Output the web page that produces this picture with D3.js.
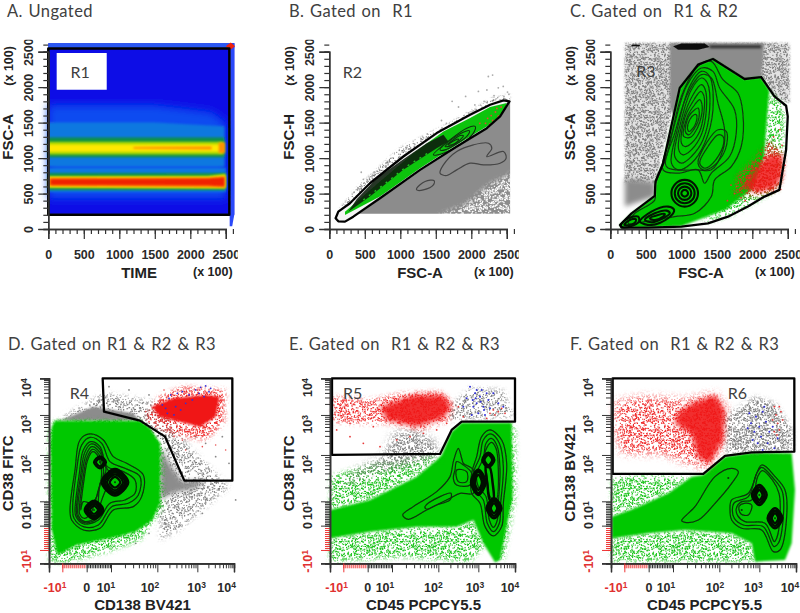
<!DOCTYPE html>
<html>
<head>
<meta charset="utf-8">
<script src="https://d3js.org/d3.v7.min.js"></script>
<style>
  html, body { margin: 0; background: #fff; }
  svg { display: block; }
  .title { font: 16.5px Lato, sans-serif; fill: #404040; word-spacing: 1px; letter-spacing: 0.4px; }
  .gate-name { font: 16px Lato, sans-serif; fill: #404040; }
  .tick-label { font: bold 12.5px "Liberation Sans", sans-serif; fill: #2a2a2a; }
  .axis-title { font: bold 15px "Liberation Sans", sans-serif; fill: #222; }
  .axis-unit { font: bold 12.5px "Liberation Sans", sans-serif; fill: #222; }
</style>
</head>
<body>
<svg id="chart" width="800" height="613"></svg>
<script>
// ---- Linear axes, top row (x 100)
const linearMajor = [0, 500, 1000, 1500, 2000, 2500];
const linearMinor = d3.range(0, 2601, 100);

// ---- Biexponential axes, bottom row, in display channels
const bixTicks = [40, 113, 186, 325, 445, 555];
const bixBases = ['-10', '0', '10', '10', '10', '10'];
const bixExps = ['1', '', '1', '2', '3', '4'];
const bixDecades = [186, 325, 445, 555];
const dLabelPos = [18, 113, 171, 303, 443, 533];
const eLabelPos = [20, 113, 165, 310, 435, 540];
const fLabelPos = [15, 114, 165, 312, 427, 537];

// ---- Panel A, FSC-A over TIME density
const aPlot = [[0, 200], [2620, 200], [2620, 2620], [0, 2620]];
const aStripTop = [[0, 2550], [2620, 2550], [2620, 2620], [0, 2620]];
const aStripRight = [[2555, 40], [2590, 40], [2620, 200], [2620, 2620], [2555, 2620]];
const aCorner = [[2500, 2576], [2570, 2630], [2630, 2576], [2570, 2530]];
const aBandColors = ['#0b4cf0', '#0f78e0', '#0f78e0', '#109048', '#109048', '#a8d800', '#a8d800', '#ffe800', '#ffe800', '#ff9000', '#ff9000', '#ff9000', '#f02000'];
const aBands = [
  [[0, 430], [2500, 430], [2500, 1500], [2300, 1650], [1500, 1750], [0, 1750]],
  [[0, 880], [2480, 880], [2480, 1450], [1500, 1500], [0, 1500]],
  [[0, 520], [2500, 520], [2500, 860], [0, 860]],
  [[0, 1010], [2480, 1010], [2480, 1290], [0, 1290]],
  [[0, 550], [2490, 550], [2490, 790], [0, 790]],
  [[0, 1050], [2470, 1050], [2470, 1230], [0, 1230]],
  [[0, 580], [2500, 570], [2500, 780], [2250, 750], [0, 745]],
  [[0, 1090], [2450, 1090], [2450, 1190], [0, 1190]],
  [[0, 595], [2490, 585], [2490, 755], [2250, 730], [0, 730]],
  [[0, 605], [2490, 590], [2490, 745], [2250, 722], [0, 722]],
  [[1200, 1130], [2300, 1120], [2300, 1165], [1200, 1155]],
  [[2400, 1070], [2490, 1070], [2490, 1220], [2400, 1220]],
  [[30, 622], [2250, 612], [2480, 600], [2480, 730], [2250, 712], [30, 705]]
];
const aGate = [[0, 200], [2550, 200], [2550, 2545], [0, 2545]];
const aLabelBox = [[118, 1964], [823, 1964], [823, 2482], [118, 2482]];

// ---- Panel B, FSC-H over FSC-A
const bFringe = [[127, 268], [400, 600], [1000, 1150], [1700, 1500], [2300, 1850], [2550, 1900], [2538, 1799], [1983, 1611], [1043, 1022], [573, 645], [291, 363]];
const bGrey = [[291, 215], [2547, 215], [2547, 1799], [2218, 1422], [1795, 1163], [1278, 834], [714, 433]];
const bGreyFade = [[1500, 180], [2600, 180], [2600, 800], [2250, 620], [1900, 330]];
const bGate = [[89, 151], [127, 108], [221, 104], [338, 174], [714, 433], [1278, 834], [1795, 1163], [2218, 1422], [2406, 1587], [2538, 1799], [2453, 1813], [2265, 1752], [1983, 1611], [1513, 1352], [1043, 1022], [573, 645], [291, 363], [127, 245]];
const bGreen = [[221, 198], [714, 457], [1278, 857], [1795, 1187], [2218, 1446], [2453, 1634], [2500, 1776], [2265, 1719], [1983, 1564], [1607, 1375], [1184, 1069], [714, 669], [385, 386], [221, 245]];
const bCore = [[268, 245], [573, 457], [1043, 834], [1513, 1140], [1678, 1234], [1607, 1328], [1372, 1210], [1043, 984], [667, 716], [385, 420]];
const bCoreLine = [[479, 410], [760, 620], [1100, 890], [1419, 1090]];
const bContours = [
  [[1466, 1046], [1701, 1258], [1936, 1422], [2054, 1446], [2030, 1352], [1842, 1187], [1607, 1069]],
  [[1560, 1116], [1748, 1281], [1913, 1375], [1974, 1385], [1936, 1305], [1772, 1187], [1630, 1116]],
  [[1630, 1163], [1748, 1258], [1842, 1319], [1889, 1314], [1842, 1258], [1725, 1177]],
  [[1678, 1187], [1762, 1248], [1819, 1267], [1795, 1225], [1725, 1187]]
];
const bGreyContours = [
  [[1560, 787], [1607, 904], [1795, 1093], [2030, 1187], [2242, 1210], [2289, 1140], [2218, 1022], [2453, 1093], [2491, 999], [2406, 928], [2171, 904], [1983, 928], [1795, 834], [1654, 754]],
  [[1231, 575], [1349, 669], [1476, 683], [1466, 622], [1325, 551], [1231, 551]]
];
const bDots = [[1730, 1800], [1820, 1720], [1920, 1870], [2100, 1940], [2240, 2150], [2300, 2170], [2220, 1960], [2380, 1990], [2450, 2010], [2510, 1930], [2320, 1880], [2180, 1800], [1290, 1270], [1380, 1340], [1200, 1200], [1120, 1130], [900, 900], [760, 780], [450, 800], [480, 700], [350, 520], [1580, 1530], [1650, 1490], [2050, 1750], [2460, 1870], [2530, 1900]];
const bRedDots = [[2230, 1560], [2280, 1600], [2340, 1650], [2380, 1590], [2200, 1490], [2300, 1530], [2120, 1490], [2420, 1720], [2360, 1700], [2260, 1480]];

// ---- Panel C, SSC-A over FSC-A
const cSpeckle = [[206, 2623], [2523, 2623], [2523, 1776], [2312, 1870], [2125, 2152], [955, 2011], [627, 645], [206, 640]];
const cGrey = [[838, 2623], [2172, 2623], [2125, 2129], [978, 1988], [900, 1600], [838, 1700]];
const cGreyLow = [[206, 316], [627, 457], [636, 660], [400, 690], [206, 700]];
const cPaleGreen = [[2240, 1940], [2450, 1730], [2430, 970], [2360, 550], [2170, 457], [1760, 220], [1280, 70], [1500, 300], [2150, 1000]];
const cGate = [[136, 57], [300, 221], [627, 466], [636, 669], [744, 928], [978, 1988], [1236, 2317], [1446, 2397], [1891, 2115], [2125, 2143], [2312, 1870], [2476, 1738], [2499, 1587], [2476, 1116], [2382, 551], [2172, 457], [1938, 316], [1657, 174], [1376, 80], [1002, 33], [534, 19], [159, 19]];
const cGreen = [[136, 57], [300, 221], [627, 466], [636, 669], [744, 928], [978, 1988], [1236, 2317], [1446, 2397], [1891, 2115], [2125, 2143], [2240, 1960], [2190, 1350], [2170, 1020], [2000, 560], [1620, 270], [1000, 40], [534, 19], [159, 19]];
const cRedWide = [[1740, 480], [1800, 760], [2050, 1000], [2240, 1240], [2440, 1060], [2420, 700], [2340, 540], [2050, 470]];
const cRed = [[1860, 590], [2020, 820], [2230, 1050], [2430, 1040], [2410, 720], [2320, 580], [2080, 510]];
const cTopBlack = [[885, 2576], [1002, 2614], [1329, 2614], [1399, 2567], [1236, 2529], [955, 2529]];
const cTopStreak = [[1399, 2590], [2125, 2590], [2125, 2550], [1399, 2550]];
const cTopDash = [[300, 2575], [417, 2575], [417, 2600], [300, 2600]];
const cContours = [
  [[627, 598], [791, 1022], [1002, 1870], [1236, 2294], [1423, 2364], [1587, 2105], [1797, 1917], [1867, 1634], [1844, 1163], [1704, 881], [1470, 692], [1423, 457], [1189, 221], [908, 174], [487, 104], [253, 80], [346, 221], [627, 410]],
  [[744, 834], [885, 1399], [1072, 2011], [1282, 2270], [1446, 2223], [1540, 1988], [1750, 1681], [1774, 1352], [1680, 1022], [1423, 787], [1329, 645], [1236, 834], [955, 787]],
  [[791, 881], [908, 1352], [1095, 1917], [1282, 2176], [1423, 2129], [1516, 1776], [1610, 1399], [1587, 1116], [1423, 834], [1236, 834]],
  [[861, 928], [931, 1352], [1119, 2011], [1282, 2223], [1399, 2152], [1446, 1681], [1329, 1210], [1142, 928], [955, 834]],
  [[908, 1022], [978, 1446], [1142, 1964], [1282, 2129], [1367, 2058], [1399, 1681], [1306, 1258], [1142, 1022], [1002, 928]],
  [[964, 1116], [1025, 1540], [1165, 1893], [1282, 2035], [1338, 1964], [1353, 1681], [1282, 1328], [1142, 1116], [1025, 1046]],
  [[1002, 1210], [1048, 1564], [1179, 1823], [1273, 1941], [1320, 1870], [1320, 1658], [1259, 1375], [1142, 1210], [1048, 1163]],
  [[1034, 1305], [1086, 1587], [1189, 1752], [1259, 1823], [1292, 1752], [1282, 1587], [1226, 1422], [1133, 1295]],
  [[1058, 1375], [1104, 1587], [1189, 1681], [1236, 1705], [1254, 1634], [1236, 1517], [1179, 1408], [1104, 1328]],
  [[1086, 1422], [1119, 1540], [1179, 1611], [1212, 1611], [1212, 1517], [1165, 1422], [1109, 1375]],
  [[1259, 928], [1376, 1163], [1516, 1328], [1587, 1305], [1587, 1163], [1446, 928], [1329, 857]],
  [[1236, 928], [1353, 1210], [1516, 1399], [1633, 1375], [1619, 1116], [1446, 881], [1306, 834]]
];
const cRings = [
  [[1048, 692], [1180, 636], [1235, 504], [1180, 372], [1048, 316], [916, 372], [861, 504], [916, 636]],
  [[1048, 645], [1148, 604], [1188, 504], [1148, 404], [1048, 363], [948, 404], [908, 504], [948, 604]],
  [[1048, 598], [1114, 570], [1142, 504], [1114, 438], [1048, 410], [982, 438], [954, 504], [982, 570]],
  [[1048, 551], [1081, 537], [1095, 504], [1081, 471], [1048, 457], [1015, 471], [1001, 504], [1015, 537]],
  [[417, 104], [580, 245], [814, 316], [899, 268], [814, 151], [580, 57]],
  [[487, 127], [627, 221], [791, 259], [838, 221], [744, 151], [580, 94]],
  [[557, 151], [674, 198], [767, 212], [744, 174], [627, 127]],
  [[150, 57], [253, 151], [393, 174], [402, 104], [276, 33], [169, 24]],
  [[197, 61], [276, 127], [360, 137], [346, 89], [243, 52]]
];
const cRedDots = [[1780, 600], [1750, 500], [1700, 620], [1840, 440], [1900, 400], [2240, 1200], [2300, 1300], [2350, 1120], [2420, 1180], [2390, 1400], [2280, 1140], [2460, 900], [2400, 560], [2300, 530], [1650, 400], [2120, 930], [2050, 860], [1960, 720]];

// ---- Panel D, CD38 FITC over CD138 BV421
const dCloud = [[33, 435], [113, 480], [163, 510], [260, 495], [333, 480], [420, 350], [500, 270], [540, 230], [470, 170], [390, 100], [333, 70], [333, 360]];
const dGrey = [[43, 432], [133, 470], [253, 450], [273, 428], [18, 428]];
const dGrey2 = [[333, 350], [368, 290], [400, 245], [470, 250], [440, 225], [370, 210], [333, 190]];
const dEdgeGreen = [[1, 5], [53, 2], [190, 40], [273, 70], [343, 170], [340, 350], [273, 428], [18, 428], [0, 400]];
const dGreen = [[18, 428], [273, 428], [303, 405], [333, 360], [333, 180], [310, 130], [260, 95], [203, 80], [83, 55], [25, 25], [8, 100], [5, 350], [8, 410]];
const dGate = [[161, 555], [550, 555], [550, 248], [406, 248], [348, 380], [273, 428], [165, 455]];
const dRedWide = [[290, 440], [330, 500], [400, 530], [530, 520], [525, 420], [470, 370], [400, 380], [340, 400]];
const dRed = [[308, 470], [373, 495], [473, 505], [512, 500], [500, 440], [453, 410], [393, 425], [333, 440]];
const dContours = [
  [[63, 160], [78, 280], [93, 370], [123, 388], [163, 370], [193, 320], [233, 300], [283, 265], [278, 200], [253, 170], [193, 160], [153, 105], [103, 100], [68, 130]],
  [[71, 160], [83, 280], [98, 355], [123, 378], [158, 360], [183, 305], [228, 285], [273, 260], [268, 205], [238, 180], [188, 170], [148, 115], [103, 110], [75, 135]],
  [[78, 160], [91, 270], [103, 340], [125, 365], [153, 350], [175, 290], [223, 275], [258, 250], [258, 210], [228, 190], [183, 180], [148, 130], [105, 118], [81, 140]],
  [[82, 160], [95, 265], [107, 332], [126, 358], [152, 343], [173, 285], [190, 262], [170, 220], [155, 180], [145, 135], [106, 122], [85, 141]],
  [[86, 160], [98, 260], [111, 325], [128, 350], [151, 335], [171, 280], [153, 240], [148, 190], [143, 140], [108, 125], [88, 143]],
  [[91, 160], [102, 255], [114, 317], [130, 342], [149, 328], [164, 275], [148, 220], [140, 190], [125, 150], [106, 135], [92, 148]],
  [[95, 160], [105, 250], [116, 310], [131, 335], [148, 320], [158, 270], [143, 200], [128, 180], [103, 185]]
];
const dRings = [
  [[171, 303], [153, 321], [135, 303], [153, 285]],
  [[165, 303], [153, 315], [141, 303], [153, 291]],
  [[238, 243], [198, 283], [158, 243], [198, 203]],
  [[233, 243], [198, 278], [163, 243], [198, 208]],
  [[228, 243], [198, 273], [168, 243], [198, 213]],
  [[222, 243], [198, 267], [174, 243], [198, 219]],
  [[214, 243], [198, 259], [182, 243], [198, 227]],
  [[163, 160], [135, 188], [107, 160], [135, 132]],
  [[158, 160], [135, 183], [112, 160], [135, 137]],
  [[153, 160], [135, 178], [117, 160], [135, 142]],
  [[147, 160], [135, 172], [123, 160], [135, 148]]
];
const dCenters = [[198, 243], [135, 160], [153, 303]];
const dGreyDots = [[180, 530], [210, 490], [240, 520], [280, 480], [300, 505], [330, 470], [360, 380], [390, 350], [420, 330], [450, 300], [500, 320], [520, 380], [540, 300], [470, 360], [440, 380], [410, 290], [380, 190], [420, 170], [460, 150], [350, 120], [390, 110], [430, 200], [470, 190], [510, 220], [560, 190], [370, 150], [335, 140], [300, 90], [260, 60]];
const dRedDots = [[300, 425], [320, 410], [350, 400], [375, 380], [400, 370], [430, 390], [460, 350], [500, 355], [530, 340], [410, 340], [365, 340], [480, 395], [290, 455], [345, 520], [480, 520]];
const dBlueDots = [[385, 510], [400, 515], [420, 505], [440, 520], [455, 528], [470, 532], [480, 515], [360, 495], [340, 475], [355, 450], [375, 445], [395, 460], [410, 480], [430, 490], [380, 470], [350, 465], [450, 510], [365, 505], [485, 525], [465, 500]];

// ---- Panel E, CD38 FITC over CD45 PCPCY5.5
const eGate = [[6, 555], [555, 555], [555, 425], [395, 425], [365, 400], [330, 328], [6, 325]];
const eEdgeUpper = [[3, 262], [140, 300], [310, 325], [320, 310], [260, 260], [120, 190], [0, 160]];
const eEdgeLower = [[0, 75], [0, 5], [220, 20], [420, 5], [470, 60], [430, 130], [380, 110], [260, 110], [120, 95]];
const eEdgeRight = [[540, 422], [556, 400], [556, 200], [520, 10], [500, 10]];
const eGreen = [[0, 160], [120, 190], [260, 260], [320, 310], [335, 325], [365, 395], [395, 422], [545, 422], [548, 200], [510, 10], [495, 3], [460, 60], [430, 130], [380, 110], [260, 110], [120, 95], [0, 75]];
const eGreyCloud = [[30, 230], [120, 270], [220, 290], [320, 320], [320, 360], [260, 400], [190, 390], [160, 320], [80, 280]];
const eRedWide = [[8, 500], [120, 490], [220, 510], [330, 515], [375, 475], [360, 430], [270, 400], [180, 420], [70, 420], [8, 425]];
const eRedCore = [[150, 470], [250, 505], [340, 505], [365, 470], [340, 435], [260, 410], [170, 430]];
const eGreyTop = [[360, 470], [420, 525], [520, 520], [550, 440], [400, 430], [360, 430]];
const eContours = [
  [[218, 145], [250, 170], [320, 215], [360, 260], [370, 305], [385, 345], [395, 315], [400, 300], [430, 280], [430, 210], [390, 210], [360, 195], [290, 160], [235, 132]],
  [[285, 170], [330, 200], [363, 210], [360, 190], [320, 175], [290, 162]],
  [[375, 280], [380, 305], [400, 295], [425, 270], [420, 235], [380, 235], [370, 255]],
  [[380, 280], [410, 275], [410, 245], [385, 245]],
  [[440, 320], [455, 380], [480, 400], [515, 370], [530, 300], [520, 180], [515, 110], [490, 82], [465, 110], [450, 180], [425, 210], [425, 270]],
  [[450, 320], [460, 370], [482, 388], [508, 360], [520, 290], [512, 180], [508, 120], [490, 95], [472, 120], [460, 190], [435, 220], [430, 270]],
  [[460, 315], [468, 360], [484, 375], [502, 350], [510, 280], [505, 180], [502, 130], [490, 108], [478, 130], [468, 200], [445, 230], [440, 270]],
  [[462, 310], [472, 350], [485, 363], [498, 345], [505, 280], [498, 190], [480, 200], [470, 270]]
];
const eRings = [
  [[467, 243], [445, 281], [423, 243], [445, 205]],
  [[462, 243], [445, 275], [428, 243], [445, 211]],
  [[456, 243], [445, 266], [434, 243], [445, 220]],
  [[514, 165], [492, 195], [470, 165], [492, 135]],
  [[508, 165], [492, 188], [476, 165], [492, 142]],
  [[502, 165], [492, 180], [482, 165], [492, 150]],
  [[493, 310], [475, 332], [457, 310], [475, 288]],
  [[487, 310], [475, 326], [463, 310], [475, 294]],
  [[478, 290], [488, 240], [490, 190], [480, 190], [472, 240], [468, 290]]
];
const eBlueDots = [[420, 530], [435, 510], [450, 500], [440, 480], [460, 470], [430, 470], [475, 490], [490, 510], [410, 495], [445, 450], [465, 445], [480, 465], [505, 480], [520, 470], [425, 445], [400, 470], [455, 520], [440, 520], [452, 485], [470, 510], [437, 495], [462, 460], [428, 490]];
const eRedDots = [[490, 460], [505, 455], [515, 465], [495, 445], [480, 450], [525, 450], [470, 435], [400, 440], [385, 470], [20, 400], [60, 380], [100, 360], [150, 350], [200, 370], [240, 380], [60, 420], [130, 410], [280, 390], [320, 400], [350, 420]];

// ---- Panel F, CD138 BV421 over CD45 PCPCY5.5
const fGate = [[5, 555], [550, 555], [550, 335], [422, 333], [342, 322], [277, 268], [5, 268]];
const fEdgeUpper = [[2, 262], [242, 262], [172, 210], [72, 165], [2, 140]];
const fEdgeLower = [[2, 75], [112, 90], [222, 100], [362, 90], [422, 60], [432, 5], [2, 5]];
const fGreen = [[2, 140], [72, 165], [172, 210], [242, 260], [277, 265], [342, 320], [422, 332], [542, 330], [552, 220], [542, 60], [522, 10], [432, 5], [422, 60], [362, 90], [222, 100], [112, 90], [2, 75]];
const fRedWide = [[12, 485], [102, 500], [222, 490], [312, 510], [350, 460], [345, 370], [292, 285], [232, 300], [152, 330], [32, 330], [12, 400]];
const fRedCore = [[200, 450], [242, 480], [312, 505], [342, 460], [337, 370], [297, 300], [262, 315], [240, 390], [190, 420]];
const fGreyCloud = [[347, 330], [342, 440], [432, 500], [492, 480], [545, 400], [545, 338]];
const fContours = [
  [[212, 128], [252, 170], [312, 260], [362, 285], [382, 275], [362, 240], [312, 180], [262, 130], [222, 123]],
  [[357, 160], [362, 190], [412, 210], [452, 295], [492, 260], [522, 220], [527, 140], [507, 40], [487, 35], [452, 100], [392, 105], [362, 130]],
  [[364, 160], [370, 182], [412, 200], [437, 270], [452, 288], [487, 255], [514, 215], [517, 140], [502, 60], [489, 50], [457, 110], [397, 115], [370, 135]],
  [[376, 165], [392, 185], [422, 190], [440, 260], [454, 278], [484, 250], [504, 210], [507, 140], [497, 75], [490, 65], [462, 120], [402, 125], [380, 143]],
  [[384, 170], [400, 180], [422, 175], [412, 145], [390, 148]]
];
const fRings = [
  [[467, 205], [445, 235], [423, 205], [445, 175]],
  [[461, 205], [445, 228], [429, 205], [445, 182]],
  [[455, 205], [445, 220], [435, 205], [445, 190]],
  [[514, 135], [492, 165], [470, 135], [492, 105]],
  [[508, 135], [492, 158], [476, 135], [492, 112]],
  [[502, 135], [492, 150], [482, 135], [492, 120]]
];
const fCenters = [[352, 256], [445, 205], [492, 135], [392, 160]];
const fRedDots = [[490, 470], [495, 445], [500, 420], [505, 400], [485, 430], [510, 455], [490, 395], [505, 470], [515, 430], [498, 385]];
const fBlueDots = [[420, 420], [435, 440], [445, 410], [455, 455], [465, 425], [475, 395], [430, 395], [450, 380], [440, 360], [470, 360], [485, 410], [415, 450], [460, 470], [500, 375], [425, 370], [455, 340], [490, 345], [410, 405]];

const svg = d3.select('#chart');
const defs = svg.append('defs');
[['soft', 0.35], ['blur1', 1.2], ['blur2', 2.4], ['blur4', 4]].forEach(([id, dev]) => {
  defs.append('filter').attr('id', id)
    .attr('filterUnits', 'userSpaceOnUse').attr('x', 0).attr('y', 0).attr('width', 800).attr('height', 613)
    .append('feGaussianBlur').attr('stdDeviation', dev);
});

// ---- Speckle textures for the clouds of single events (style only, no values)
function addSpeck(id, color, count, size) {
  const pattern = defs.append('pattern').attr('id', id)
    .attr('patternUnits', 'userSpaceOnUse').attr('width', 61).attr('height', 53);
  pattern.selectAll('rect').data(d3.range(count)).join('rect')
    .attr('x', i => ((i * 0.7548776662) % 1) * 61)
    .attr('y', i => ((i * i * 0.5698402910) % 1) * 53)
    .attr('width', size).attr('height', size).attr('fill', color);
}
addSpeck('speckGrey', '#787878', 800, 1.1);
addSpeck('speckGreyDense', '#7a7a7a', 1300, 1.1);
addSpeck('speckWhite', '#ffffff', 1100, 1.3);
addSpeck('speckGreen', '#10c010', 1100, 1.1);
addSpeck('speckRed', '#ee2020', 1100, 1.1);

// ---- Helpers
let maskCount = 0;
function addPanel(x, y) {
  const root = svg.append('g');
  const marks = root.append('g').attr('filter', 'url(#soft)');
  const closed = d3.line().x(d => x(d[0])).y(d => y(d[1]));
  const smooth = d3.line().x(d => x(d[0])).y(d => y(d[1])).curve(d3.curveCatmullRomClosed.alpha(0.5));

  return {
    root, x, y, marks,
    area(pts, fill, blur, opacity) {
      const p = marks.append('path').attr('d', closed(pts) + 'Z').attr('fill', fill);
      if (blur) p.attr('filter', `url(#${blur})`);
      if (opacity) p.attr('opacity', opacity);
    },
    // speckle over a region, thinning out towards the edge of the region
    speck(pts, id, fade = 'blur2') {
      const maskId = `fade${maskCount++}`;
      defs.append('mask').attr('id', maskId)
        .attr('maskUnits', 'userSpaceOnUse').attr('x', 0).attr('y', 0).attr('width', 800).attr('height', 613)
        .append('path').attr('d', closed(pts) + 'Z').attr('fill', '#fff').attr('filter', `url(#${fade})`);
      marks.append('rect').attr('width', 800).attr('height', 613)
        .attr('fill', `url(#${id})`).attr('mask', `url(#${maskId})`);
    },
    gate(pts, width = 2.3) {
      marks.append('path').attr('d', closed(pts) + 'Z')
        .attr('fill', 'none').attr('stroke', '#050505').attr('stroke-width', width)
        .attr('stroke-linejoin', 'round');
    },
    contours(list, color, width) {
      marks.append('g').selectAll('path').data(list).join('path')
        .attr('d', smooth).attr('fill', 'none')
        .attr('stroke', color).attr('stroke-width', width);
    },
    dots(list, color, r = 0.75) {
      marks.append('g').selectAll('circle').data(list).join('circle')
        .attr('cx', d => x(d[0])).attr('cy', d => y(d[1]))
        .attr('r', r).attr('fill', color);
    },
    gateName(name, vx, vy) {
      root.append('text').attr('class', 'gate-name')
        .attr('x', x(vx)).attr('y', y(vy)).attr('text-anchor', 'middle').attr('dy', '0.35em')
        .text(name);
    }
  };
}

let clipCount = 0;
function linearAxes(p, xTitle, yTitle) {
  const { x, y, root } = p;
  const ox = x(0), oy = y(0);
  const axes = root.append('g');

  axes.append('g').attr('transform', `translate(0, ${oy})`)
    .call(d3.axisBottom(x).tickValues(linearMinor).tickSize(5).tickFormat(''));
  axes.append('g').attr('transform', `translate(${ox}, 0)`)
    .call(d3.axisLeft(y).tickValues(linearMinor).tickSize(5).tickFormat(''));

  // the last tick label is cut by the plot area in the original
  const clipX = `lab${clipCount++}`, clipY = `lab${clipCount++}`;
  defs.append('clipPath').attr('id', clipX).append('rect')
    .attr('x', ox - 20).attr('y', oy - 2).attr('width', x(2500) - ox + 32).attr('height', 40);
  defs.append('clipPath').attr('id', clipY).append('rect')
    .attr('x', ox - 40).attr('y', y(2500) - 12).attr('width', 42).attr('height', oy - y(2500) + 40);

  const xMajor = axes.append('g').attr('clip-path', `url(#${clipX})`).append('g')
    .attr('transform', `translate(0, ${oy})`)
    .call(d3.axisBottom(x).tickValues(linearMajor).tickSize(10).tickPadding(11).tickFormat(d3.format('d')));
  const yMajor = axes.append('g').attr('clip-path', `url(#${clipY})`).append('g')
    .attr('transform', `translate(${ox}, 0)`)
    .call(d3.axisLeft(y).tickValues(linearMajor).tickSize(10).tickFormat(d3.format('d')));

  axes.selectAll('path.domain').attr('stroke', '#333').attr('stroke-width', 1.4);
  axes.selectAll('line').attr('stroke', '#333').attr('stroke-width', 1.2);
  xMajor.attr('font-size', null).attr('font-family', null);
  yMajor.attr('font-size', null).attr('font-family', null);
  xMajor.selectAll('text').attr('class', 'tick-label');
  yMajor.selectAll('text').attr('class', 'tick-label')
    .attr('transform', 'rotate(-90)').attr('x', 0).attr('y', -20).attr('dy', '0.35em')
    .attr('text-anchor', 'middle');

  root.append('text').attr('class', 'axis-title').attr('text-anchor', 'middle')
    .attr('x', (ox + x(2500)) / 2 + 2).attr('y', oy + 49).text(xTitle);
  root.append('text').attr('class', 'axis-unit').attr('text-anchor', 'middle')
    .attr('x', x(2500) - 13).attr('y', oy + 47).text('(x 100)');
  root.append('text').attr('class', 'axis-title').attr('text-anchor', 'middle')
    .attr('transform', `translate(${ox - 35}, ${y(1300)}) rotate(-90)`).text(yTitle);
  root.append('text').attr('class', 'axis-unit').attr('text-anchor', 'middle')
    .attr('transform', `translate(${ox - 35}, ${y(2300)}) rotate(-90)`).text('(x 100)');
}

function bixMinorTicks() {
  const minors = d3.range(113, 186, 5);
  bixDecades.slice(0, -1).forEach((c, i) => {
    const span = bixDecades[i + 1] - c;
    d3.range(2, 10).forEach(k => minors.push(c + Math.log10(k) * span));
  });
  return minors;
}

function labelText(sel) {
  sel.each(function (d, i) {
    const t = d3.select(this);
    t.append('tspan').text(bixBases[i]);
    if (bixExps[i]) t.append('tspan').attr('dy', '-0.45em').attr('font-size', '8.5px').text(bixExps[i]);
  });
}

function bixAxes(p, labelPos, xTitle, yTitle) {
  const { x, y, root } = p;
  const ox = x(0), oy = y(0);
  const axes = root.append('g');
  const redTicks = d3.range(40, 110, 6);
  const black = bixMinorTicks();

  const drawn = [
    [d3.axisBottom(x), `translate(0, ${oy})`, black, 5, '#333'],
    [d3.axisBottom(x), `translate(0, ${oy})`, redTicks, 5, '#e33'],
    [d3.axisBottom(x), `translate(0, ${oy})`, [0, 113, 186, 325, 445, 555], 9, '#333'],
    [d3.axisBottom(x), `translate(0, ${oy})`, [40], 9, '#e33'],
    [d3.axisLeft(y), `translate(${ox}, 0)`, black, 5, '#333'],
    [d3.axisLeft(y), `translate(${ox}, 0)`, redTicks, 5, '#e33'],
    [d3.axisLeft(y), `translate(${ox}, 0)`, [0, 113, 186, 325, 445, 555], 9, '#333'],
    [d3.axisLeft(y), `translate(${ox}, 0)`, [40], 9, '#e33']
  ];
  drawn.forEach(([axis, tf, values, size, color]) => {
    const g = axes.append('g').attr('transform', tf)
      .call(axis.tickValues(values).tickSize(size).tickFormat(''));
    g.selectAll('line').attr('stroke', color).attr('stroke-width', 1);
    g.select('path.domain').attr('stroke', '#333').attr('stroke-width', 1.3);
  });

  root.append('g').selectAll('text').data(labelPos).join('text')
    .attr('class', 'tick-label').attr('text-anchor', 'middle')
    .attr('x', d => x(d)).attr('y', oy + 29)
    .style('fill', (d, i) => i === 0 ? '#e03030' : null)
    .call(labelText);

  root.append('g').selectAll('text').data(bixTicks).join('text')
    .attr('class', 'tick-label')
    .attr('text-anchor', (d, i) => i === 1 ? 'middle' : 'end')
    .attr('transform', d => `translate(${ox - 18}, ${y(d)}) rotate(-90)`)
    .style('fill', (d, i) => i === 0 ? '#e03030' : null)
    .call(labelText);

  root.append('text').attr('class', 'axis-title').attr('text-anchor', 'middle')
    .attr('x', (ox + x(555)) / 2 + 1).attr('y', oy + 46.5).text(xTitle);
  root.append('text').attr('class', 'axis-title').attr('text-anchor', 'middle')
    .attr('transform', `translate(${ox - 36}, ${y(270)}) rotate(-90)`).text(yTitle);
}

const topX = x0 => d3.scaleLinear().domain([0, 2500]).range([x0, x0 + 177.5]);
const topY = d3.scaleLinear().domain([0, 2500]).range([229, 51.7]);
const bottomX = x0 => d3.scaleLinear().domain([0, 555]).range([x0, x0 + 185]);
const bottomY = d3.scaleLinear().domain([0, 555]).range([563.3, 378.3]);

const green = '#00c800';
const grey = '#8c8c8c';

// ---- Panel A
const pa = addPanel(topX(48.3), topY);
pa.area(aPlot, '#0a0ee6');
pa.area(aStripTop, '#2a58f2');
pa.area(aStripRight, '#2a48fa', 'soft');
aBands.forEach((b, i) => pa.area(b, aBandColors[i], i === 0 ? 'blur4' : 'blur1'));
pa.area(aCorner, '#f02010', 'soft');
pa.area(aLabelBox, '#fff');
pa.gate(aGate, 2.5);
pa.gateName('R1', 448, 2209);
linearAxes(pa, 'TIME', 'FSC-A');

// ---- Panel B
const pb = addPanel(topX(329.3), topY);
pb.speck(bFringe, 'speckGrey', 'blur1');
pb.area(bGrey, grey);
pb.speck(bGreyFade, 'speckWhite');
pb.dots(bDots, '#aaa', 0.9);
pb.area(bGate, '#f4f4f4');
pb.area(bGreen, '#10c410');
pb.area(bCore, '#0a1a0a', null, 0.88);
pb.contours(bGreyContours, '#444', 1.2);
pb.contours(bContours, '#0c300c', 1.1);
pb.marks.append('path').datum(bCoreLine)
  .attr('d', d3.line().x(d => pb.x(d[0])).y(d => pb.y(d[1])))
  .attr('fill', 'none').attr('stroke', '#20c020').attr('stroke-width', 1.4).attr('stroke-dasharray', '2 5');
pb.dots(bRedDots, '#e04a30', 0.9);
pb.gate(bGate);
pb.gateName('R2', 324, 2209);
linearAxes(pb, 'FSC-A', 'FSC-H');

// ---- Panel C
const pc = addPanel(topX(610.3), topY);
pc.area(cSpeckle, '#e2e2e2', 'blur1');
pc.speck(cSpeckle, 'speckGreyDense', 'blur1');
pc.area(cGrey, grey, 'blur1');
pc.area(cGreyLow, grey, 'blur2');
pc.area(cTopStreak, '#333', 'blur1');
pc.area(cTopBlack, '#0c0c0c', 'soft');
pc.area(cTopDash, '#111');
pc.area(cGate, '#fff');
pc.speck(cPaleGreen, 'speckGreen');
pc.area(cGreen, green, 'blur1');
pc.speck(cRedWide, 'speckRed');
pc.area(cRed, '#f01818', 'blur2', 0.85);
pc.dots(cRedDots, '#e83030', 0.9);
pc.contours(cContours, '#0e3a0e', 1.2);
pc.contours(cRings, '#061806', 2.1);
pc.gate(cGate);
pc.gateName('R3', 500, 2223);
linearAxes(pc, 'FSC-A', 'SSC-A');

// ---- Panel D
const pd = addPanel(bottomX(49), bottomY);
pd.speck(dCloud, 'speckGrey');
pd.area(dGrey, grey, 'blur1');
pd.area(dGrey2, grey, 'blur2');
pd.dots(dGreyDots, '#888', 0.9);
pd.speck(dEdgeGreen, 'speckGreen');
pd.area(dGreen, green, 'blur1');
pd.speck(dRedWide, 'speckRed');
pd.area(dRed, '#f01818', 'blur1');
pd.dots(dRedDots, '#e85050', 0.8);
pd.dots(dBlueDots, '#3030d8', 0.9);
pd.contours(dContours, '#0a300a', 1.2);
pd.contours(dRings, '#040a04', 2.2);
pd.dots(dCenters, '#0a300a', 1);
pd.gate(dGate);
pd.gateName('R4', 91, 510);
bixAxes(pd, dLabelPos, 'CD138 BV421', 'CD38 FITC');

// ---- Panel E
const pe = addPanel(bottomX(330), bottomY);
pe.speck(eEdgeUpper, 'speckGreen');
pe.speck(eEdgeLower, 'speckGreen');
pe.speck(eEdgeRight, 'speckGreen');
pe.area(eGreen, green, 'blur1');
pe.speck(eGreyCloud, 'speckGreyDense', 'blur4');
pe.speck(eRedWide, 'speckRed');
pe.speck(eGreyTop, 'speckGrey');
pe.area(eRedCore, '#f01818', 'blur2', 0.9);
pe.dots(eRedDots, '#e83838', 0.9);
pe.dots(eBlueDots, '#3030d8', 1);
pe.contours(eContours, '#0a300a', 1.2);
pe.contours(eRings, '#040a04', 2.5);
pe.gate(eGate);
pe.gateName('R5', 68, 510);
bixAxes(pe, eLabelPos, 'CD45 PCPCY5.5', 'CD38 FITC');

// ---- Panel F
const pf = addPanel(bottomX(611), bottomY);
pf.speck(fEdgeUpper, 'speckGreen');
pf.speck(fEdgeLower, 'speckGreen');
pf.area(fGreen, green, 'blur1');
pf.speck(fRedWide, 'speckRed', 'blur4');
pf.speck(fGreyCloud, 'speckGreyDense');
pf.area(fRedCore, '#f01818', 'blur2', 0.9);
pf.dots(fRedDots, '#e83838', 0.9);
pf.dots(fBlueDots, '#3030d8', 1);
pf.contours(fContours, '#0a300a', 1.2);
pf.contours(fRings, '#040a04', 2.5);
pf.dots(fCenters, '#0a300a', 1);
pf.gate(fGate);
pf.gateName('R6', 379, 510);
bixAxes(pf, fLabelPos, 'CD45 PCPCY5.5', 'CD138 BV421');

// ---- Panel titles
const titles = ['A. Ungated', 'B. Gated on  R1', 'C. Gated on  R1 & R2', 'D. Gated on R1 & R2 & R3', 'E. Gated on  R1 & R2 & R3', 'F. Gated on  R1 & R2 & R3'];
const titleLeft = [7, 289, 570, 8, 289, 570];
const titleBase = [16.5, 16.5, 16.5, 350, 350, 350];
svg.append('g').selectAll('text').data(titles).join('text')
  .attr('class', 'title').attr('xml:space', 'preserve')
  .attr('x', (d, i) => titleLeft[i]).attr('y', (d, i) => titleBase[i]).text(d => d);
</script>
</body>
</html>
